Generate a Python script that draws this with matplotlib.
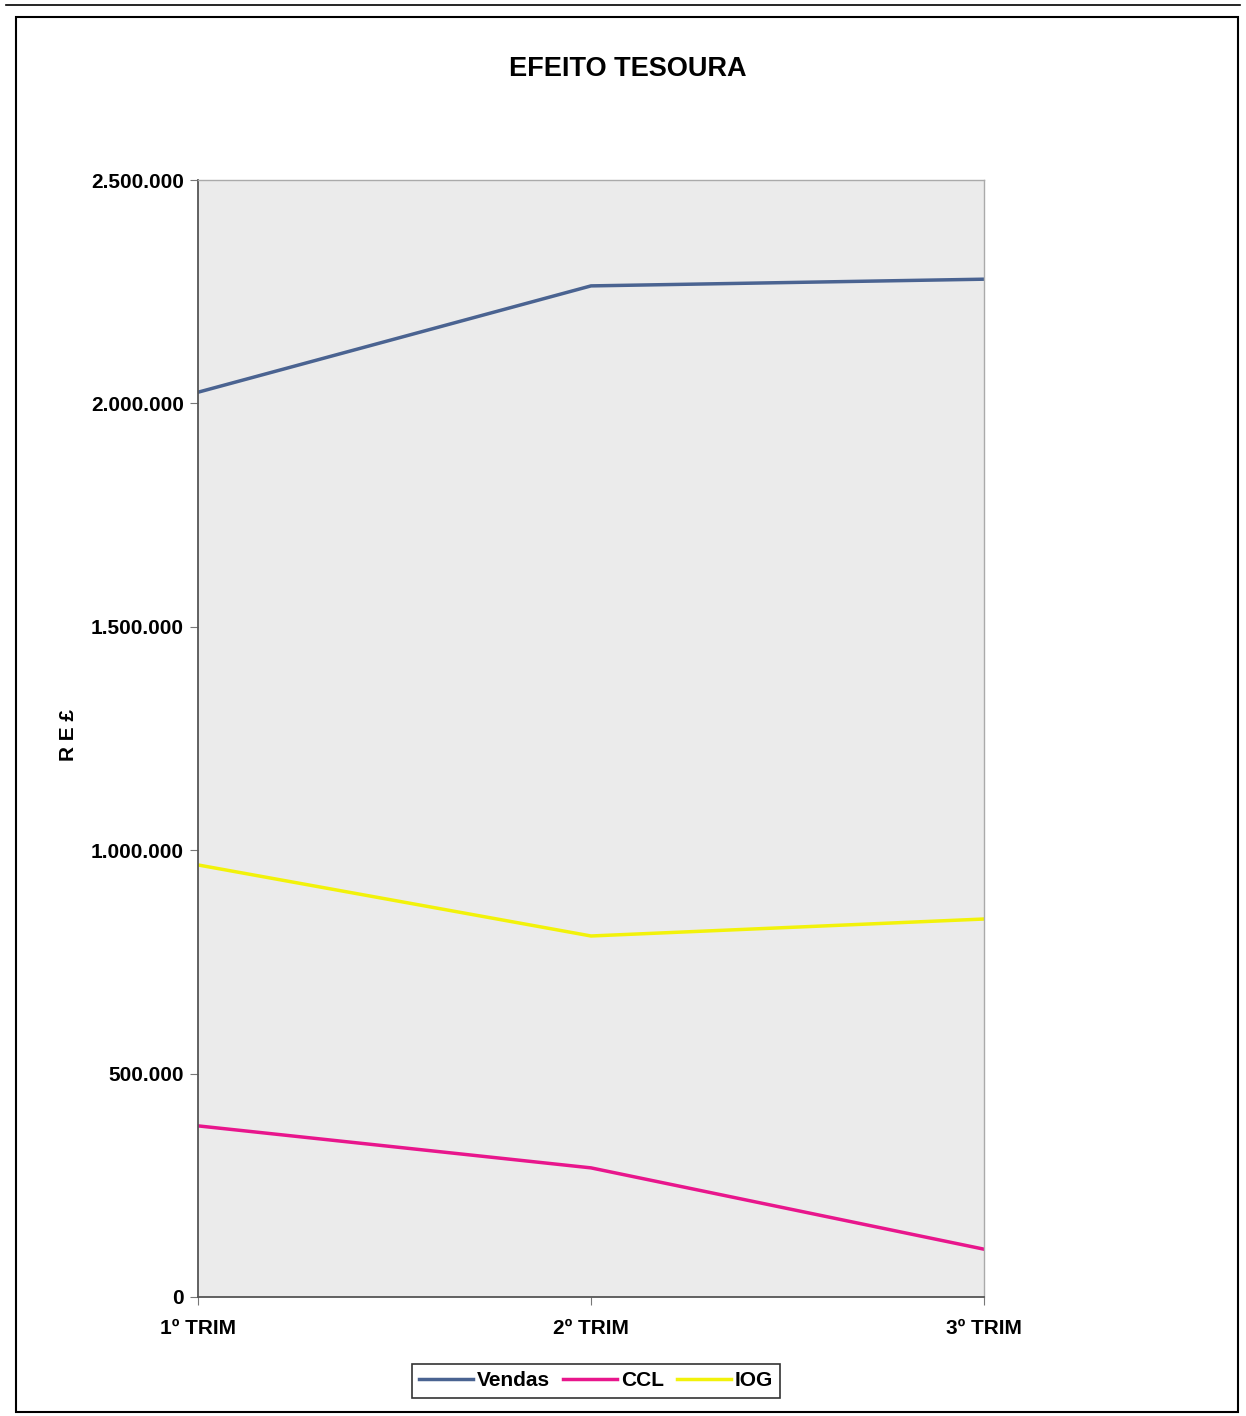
import matplotlib
matplotlib.use('Agg')
import matplotlib.pyplot as plt
from matplotlib.patches import Rectangle
from matplotlib.ticker import FuncFormatter

plt.rcParams['font.family'] = ['Liberation Sans', 'DejaVu Sans']

trims = ['1º TRIM', '2º TRIM', '3º TRIM']
vendas = [2025000, 2263000, 2278000]
ccl = [383000, 289000, 107000]
iog = [967000, 808000, 846000]

fig = plt.figure(figsize=(12.46, 14.16), dpi=100)

# outer frame
fig.patches.append(Rectangle((16 / 1246, 1 - 1412 / 1416), 1222 / 1246, 1395 / 1416,
                             transform=fig.transFigure, fill=False, edgecolor='black', lw=1.5))
fig.lines.append(plt.Line2D([0.005, 0.995], [1 - 5 / 1416, 1 - 5 / 1416],
                            transform=fig.transFigure, color='black', lw=1.2))

ax = fig.add_axes([198 / 1246, 1 - 1297 / 1416, 786 / 1246, 1117 / 1416])
ax.set_facecolor('#ebebeb')

x = range(len(trims))
ax.plot(x, vendas, color='#4a6391', lw=2.5, label='Vendas')
ax.plot(x, ccl, color='#e8168c', lw=2.5, label='CCL')
ax.plot(x, iog, color='#f2f20a', lw=2.5, label='IOG')

ax.set_xlim(0, 2)
ax.set_ylim(0, 2500000)
ax.set_xticks(list(x))
ax.set_xticklabels(trims, fontsize=15, fontweight='bold')
ax.set_yticks([0, 500000, 1000000, 1500000, 2000000, 2500000])
ax.yaxis.set_major_formatter(FuncFormatter(lambda v, p: f'{int(v):,}'.replace(',', '.')))
for lab in ax.get_yticklabels():
    lab.set_fontsize(15)
    lab.set_fontweight('bold')
ax.tick_params(axis='y', length=6, color='#777777', pad=4)
ax.tick_params(axis='x', length=6, color='#777777', pad=10)

for s in ['left', 'bottom']:
    ax.spines[s].set_color('#555555')
    ax.spines[s].set_linestyle((0, (2, 1)))
    ax.spines[s].set_linewidth(1.3)
for s in ['top', 'right']:
    ax.spines[s].set_color('#aaaaaa')
    ax.spines[s].set_linestyle((0, (2, 1)))
    ax.spines[s].set_linewidth(1.0)

fig.text(628 / 1246, 1 - 69 / 1416, 'EFEITO TESOURA', ha='center', va='center',
         fontsize=19.5, fontweight='bold')
fig.text(68 / 1246, 1 - 735 / 1416, 'R E £', ha='center', va='center', rotation=90,
         fontsize=15, fontweight='bold')

leg = fig.legend(loc='center', bbox_to_anchor=(596 / 1246, 1 - 1381 / 1416), ncol=3,
                 frameon=True, fancybox=False, edgecolor='black', fontsize=15,
                 handlelength=2.6, columnspacing=0.6, handletextpad=0.2, borderpad=0.35,
                 borderaxespad=0)
leg.get_frame().set_linewidth(1.2)
for t in leg.get_texts():
    t.set_fontweight('bold')

fig.savefig('out.png', dpi=100)
